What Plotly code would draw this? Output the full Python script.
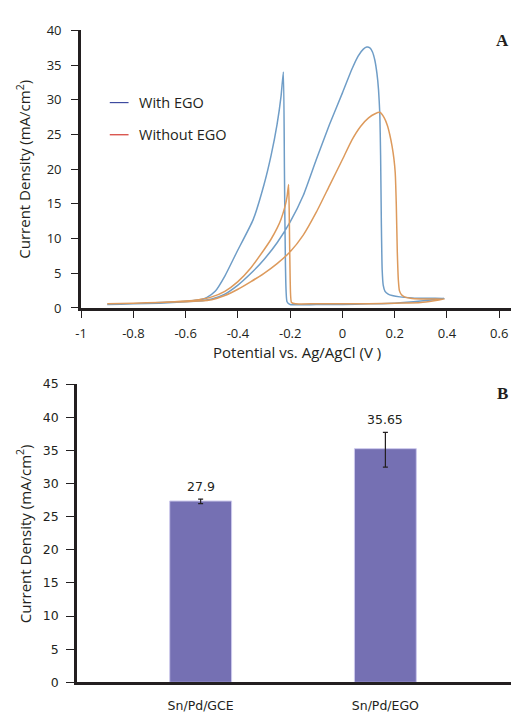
import plotly.graph_objects as go

# ---------------- Panel A data (CV curves) ----------------
ego_x = [-0.90, -0.80, -0.70, -0.60, -0.55, -0.50, -0.45, -0.40, -0.35, -0.30, -0.25, -0.20, -0.15,
         -0.10, -0.05, 0.00, 0.036, 0.06, 0.08, 0.093, 0.105, 0.115, 0.124, 0.132, 0.138, 0.143,
         0.146, 0.149, 0.152, 0.156, 0.163, 0.175, 0.19, 0.22, 0.30, 0.39,
         0.30, 0.20, 0.10, 0.0, -0.10, -0.20, -0.212, -0.218, -0.222, -0.226, -0.235, -0.25,
         -0.273, -0.30, -0.342, -0.405, -0.45, -0.487, -0.52, -0.56, -0.62, -0.70, -0.80, -0.90]
ego_y = [0.5, 0.6, 0.7, 0.9, 1.0, 1.3, 2.0, 3.3, 5.0, 7.0, 9.4, 12.4, 16.2,
         21.4, 26.4, 31.0, 34.4, 36.3, 37.3, 37.6, 37.5, 36.9, 35.7, 33.8, 31.5, 28.0,
         22.0, 12.0, 5.5, 3.3, 2.4, 2.0, 1.8, 1.6, 1.4, 1.4,
         1.0, 0.7, 0.6, 0.5, 0.5, 0.5, 0.9, 6.0, 20.0, 34.0, 30.5, 26.5,
         22.0, 17.8, 12.7, 8.0, 4.6, 2.4, 1.5, 1.1, 0.9, 0.8, 0.6, 0.5]

noego_x = [-0.90, -0.80, -0.70, -0.60, -0.55, -0.50, -0.45, -0.40, -0.35, -0.30, -0.25, -0.20, -0.15,
           -0.10, -0.05, 0.00, 0.036, 0.07, 0.10, 0.125, 0.143, 0.16, 0.172, 0.181, 0.19, 0.197,
           0.202, 0.206, 0.210, 0.214, 0.218, 0.226, 0.238, 0.26, 0.30, 0.39,
           0.30, 0.20, 0.10, 0.0, -0.10, -0.18, -0.195, -0.200, -0.203, -0.206, -0.212, -0.22,
           -0.235, -0.25, -0.275, -0.30, -0.35, -0.40, -0.45, -0.50, -0.55, -0.60, -0.70, -0.80, -0.90]
noego_y = [0.6, 0.7, 0.8, 0.9, 1.0, 1.2, 1.8, 2.7, 3.8, 5.0, 6.4, 8.1, 10.5,
           13.8, 17.6, 21.4, 24.2, 26.2, 27.4, 28.0, 28.2, 27.4, 26.3, 25.0, 23.3, 21.5,
           19.5, 15.0, 8.0, 4.0, 2.5, 1.9, 1.6, 1.4, 1.3, 1.3,
           0.8, 0.7, 0.6, 0.6, 0.6, 0.6, 0.8, 4.0, 12.0, 17.8, 16.0, 14.6,
           12.8, 11.5, 9.8, 8.4, 5.8, 3.8, 2.4, 1.6, 1.2, 1.0, 0.8, 0.7, 0.6]

legend_names = ["With EGO", "Without EGO"]
legend_colors = ["#3d4b9f", "#d43a32"]

# ---------------- Panel B data (bars) ----------------
categories = ["Sn/Pd/GCE", "Sn/Pd/EGO"]
bar_values = [27.35, 35.25]
err_plus = [0.3, 2.45]
err_minus = [0.4, 2.8]
bar_labels = ["27.9", "35.65"]

A_xticks = [-1, -0.8, -0.6, -0.4, -0.2, 0, 0.2, 0.4, 0.6]
A_xticktext = ["-1", "-0.8", "-0.6", "-0.4", "-0.2", "0", "0.2", "0.4", "0.6"]
A_yticks = [0, 5, 10, 15, 20, 25, 30, 35, 40]
B_yticks = [0, 5, 10, 15, 20, 25, 30, 35, 40, 45]

W, H = 511, 715
ink = "#231f20"

fig = go.Figure()

fig.add_trace(go.Scatter(x=ego_x, y=ego_y, mode="lines", name=legend_names[0],
                         line=dict(color="#6f9dc7", width=1.5, shape="spline", smoothing=0.5),
                         showlegend=False, xaxis="x", yaxis="y"))
fig.add_trace(go.Scatter(x=noego_x, y=noego_y, mode="lines", name=legend_names[1],
                         line=dict(color="#dd9a5c", width=1.5, shape="spline", smoothing=0.5),
                         showlegend=False, xaxis="x", yaxis="y"))

fig.add_trace(go.Bar(x=categories, y=bar_values, width=0.335,
                     marker=dict(color="#7570b3", line=dict(color="#cdc9ec", width=1)),
                     error_y=dict(type="data", symmetric=False, array=err_plus, arrayminus=err_minus,
                                  color=ink, thickness=1.2, width=2.5),
                     showlegend=False, xaxis="x2", yaxis="y2"))

annotations = []
shapes = []

# bar value labels (above error bars)
for c, v, p, t in zip(categories, bar_values, err_plus, bar_labels):
    annotations.append(dict(x=c, y=v + p, xref="x2", yref="y2", text=t, showarrow=False,
                            xanchor="center", yanchor="bottom", yshift=3,
                            font=dict(family="DejaVu Sans", size=12.5, color=ink)))

# legend for panel A
for i, (nm, col) in enumerate(zip(legend_names, legend_colors)):
    ypx = 96 + 33 * i
    yp = 1 - ypx / H
    shapes.append(dict(type="line", xref="paper", yref="paper",
                       x0=105 / W, x1=124 / W, y0=yp, y1=yp, line=dict(color=col, width=1.2)))
    annotations.append(dict(x=133 / W, y=yp, xref="paper", yref="paper", text=nm, showarrow=False,
                            xanchor="left", yanchor="middle",
                            font=dict(family="Open Sans", size=14.5, color=ink)))

# axis titles
annotations.append(dict(x=18 / W, y=1 - 164 / H, xref="paper", yref="paper",
                        text="Current Density (mA/cm<sup>2</sup>)", textangle=-90, showarrow=False,
                        xanchor="center", yanchor="middle",
                        font=dict(family="Open Sans", size=15, color=ink)))
annotations.append(dict(x=294 / W, y=1 - 352 / H, xref="paper", yref="paper",
                        text="Potential vs. Ag/AgCl (V )", showarrow=False,
                        xanchor="center", yanchor="middle",
                        font=dict(family="Open Sans", size=15, color=ink)))
annotations.append(dict(x=18 / W, y=1 - 538 / H, xref="paper", yref="paper",
                        text="Current Density (mA/cm<sup>2</sup>)", textangle=-90, showarrow=False,
                        xanchor="center", yanchor="middle",
                        font=dict(family="Open Sans", size=15, color=ink)))
# panel letters
annotations.append(dict(x=502 / W, y=1 - 32 / H, xref="paper", yref="paper", text="<b>A</b>",
                        showarrow=False, xanchor="center", yanchor="middle",
                        font=dict(family="Liberation Serif", size=17, color=ink)))
annotations.append(dict(x=502 / W, y=1 - 394 / H, xref="paper", yref="paper", text="<b>B</b>",
                        showarrow=False, xanchor="center", yanchor="middle",
                        font=dict(family="Liberation Serif", size=17, color=ink)))

tickfA = dict(family="Open Sans", size=13, color=ink)
tickfB = dict(family="DejaVu Sans", size=12.5, color=ink)

fig.update_layout(
    width=W, height=H,
    margin=dict(l=0, r=0, t=0, b=0),
    paper_bgcolor="white", plot_bgcolor="white",
    showlegend=False,
    xaxis=dict(domain=[76 / W, 1], range=[-1, 0.645], tickvals=A_xticks, ticktext=A_xticktext,
               showgrid=False, zeroline=False, showline=True, linecolor=ink, linewidth=3,
               ticks="outside", ticklen=7, tickwidth=1, tickcolor=ink, tickfont=tickfA,
               ticklabelstandoff=4, anchor="y"),
    yaxis=dict(domain=[1 - 306.7 / H, 1 - 22 / H], range=[0, 40], tickvals=A_yticks,
               showgrid=False, zeroline=False, showline=True, linecolor=ink, linewidth=3,
               ticks="outside", ticklen=7, tickwidth=1, tickcolor=ink, tickfont=tickfA,
               ticklabelstandoff=7, anchor="x"),
    xaxis2=dict(domain=[71.7 / W, 1], range=[-0.67, 1.68], type="category",
                showgrid=False, zeroline=False, showline=True, linecolor=ink, linewidth=2.5,
                ticks="", tickfont=tickfB, ticklabelstandoff=10, anchor="y2"),
    yaxis2=dict(domain=[1 - 690.7 / H, 1 - 384.7 / H], range=[0, 45], tickvals=B_yticks,
                showgrid=False, zeroline=False, showline=True, linecolor=ink, linewidth=2.5,
                ticks="outside", ticklen=8, tickwidth=1, tickcolor=ink, tickfont=tickfB,
                ticklabelstandoff=5, anchor="x2"),
    annotations=annotations,
    shapes=shapes,
)

fig.write_html("out.html")
